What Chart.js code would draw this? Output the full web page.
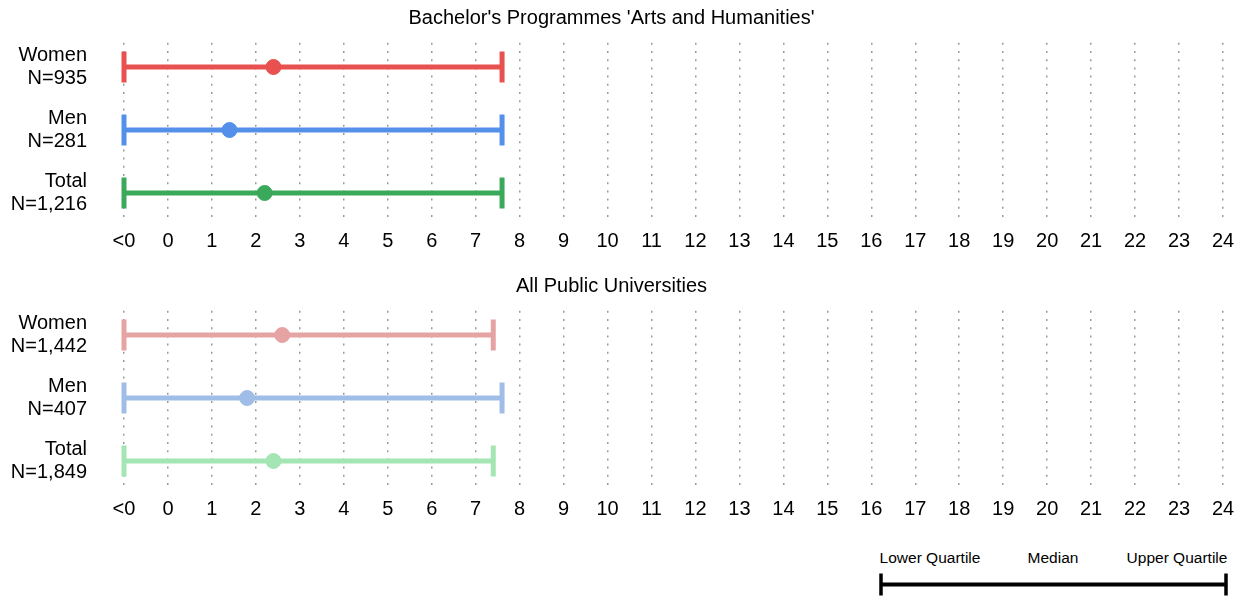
<!DOCTYPE html>
<html>
<head>
<meta charset="utf-8">
<script src="https://cdn.jsdelivr.net/npm/chart.js@4.4.1/dist/chart.umd.min.js"></script>
<style>
html, body { margin: 0; padding: 0; overflow: hidden; background: #fff; }
body { width: 1250px; height: 598px; position: relative; font-family: "Liberation Sans", Arial, sans-serif; }
.panel { position: absolute; left: 0; }
#topPanel { top: 0; }
#bottomPanel { top: 268px; }
#keyChart { position: absolute; left: 860px; top: 570px; }
.keyLabel { position: absolute; top: 548px; font-size: 15.5px; line-height: 20px; transform: translateX(-50%); white-space: nowrap; color: #000; }
</style>
</head>
<body>
<canvas id="topPanel" class="panel" width="1250" height="260"></canvas>
<canvas id="bottomPanel" class="panel" width="1250" height="260"></canvas>
<canvas id="keyChart" width="390" height="28"></canvas>
<div id="keyLabels"></div>

<script>
// 데이터
const groups = ['Women', 'Men', 'Total'];
const xTickLabels = ['<0', '0', '1', '2', '3', '4', '5', '6', '7', '8', '9', '10', '11', '12',
	'13', '14', '15', '16', '17', '18', '19', '20', '21', '22', '23', '24'];

const topTitle = "Bachelor's Programmes 'Arts and Humanities'";
const topN = ['N=935', 'N=281', 'N=1,216'];
const topLower = [-1, -1, -1];   // -1 = "<0"
const topMedian = [2.4, 1.4, 2.2];
const topUpper = [7.6, 7.6, 7.6];

const bottomTitle = 'All Public Universities';
const bottomN = ['N=1,442', 'N=407', 'N=1,849'];
const bottomLower = [-1, -1, -1];
const bottomMedian = [2.6, 1.8, 2.4];
const bottomUpper = [7.4, 7.6, 7.4];

const keyLabels = ['Lower Quartile', 'Median', 'Upper Quartile'];
const keyValues = [0, 1, 2];

// 색상
const topColors = ['#e8514f', '#5490ea', '#3ba95a'];
const bottomColors = ['#e6a3a3', '#9fbde6', '#a3e6b4'];

Chart.defaults.font.family = "'Liberation Sans', Arial, sans-serif";
Chart.defaults.color = '#000';

function drawPanel(canvasId, title, nLabels, lower, median, upper, colors) {
	const datasets = [];

	// 중앙값 점
	datasets.push({
		data: groups.map((g, i) => ({ x: median[i], y: i })),
		pointStyle: 'circle',
		pointRadius: 7.5,
		pointBackgroundColor: colors,
		pointBorderColor: colors,
		pointBorderWidth: 1,
		showLine: false,
		order: 0
	});

	// 사분위 범위 선
	groups.forEach((g, i) => {
		datasets.push({
			data: [{ x: lower[i], y: i }, { x: upper[i], y: i }],
			showLine: true,
			borderColor: colors[i],
			borderWidth: 5,
			pointStyle: 'line',
			pointRotation: 90,
			pointRadius: 15.5,
			pointBorderWidth: 5,
			pointBorderColor: colors[i],
			clip: false,
			order: 1
		});
	});

	return new Chart(document.getElementById(canvasId), {
		type: 'scatter',
		data: { datasets: datasets },
		options: {
			responsive: false,
			animation: false,
			events: [],
			layout: { padding: { left: 0, right: 27, top: 0, bottom: 0 } },
			plugins: {
				legend: { display: false },
				tooltip: { enabled: false },
				title: {
					display: true,
					text: title,
					color: '#000',
					font: { size: 20, weight: 'normal', lineHeight: 1.2 },
					padding: { top: 6, bottom: 11.8 }
				}
			},
			scales: {
				x: {
					type: 'linear',
					min: -1,
					max: 24,
					afterFit: (scale) => { scale.height = 41.8; },
					ticks: {
						stepSize: 1,
						autoSkip: false,
						maxRotation: 0,
						padding: 11,
						color: '#000',
						font: { size: 20, lineHeight: 1.2 },
						callback: (v) => xTickLabels[v + 1]
					},
					grid: { color: '#9a9a9a', lineWidth: 1.5, drawTicks: false },
					border: { display: false, dash: [2, 6.2], dashOffset: -1 }
				},
				y: {
					type: 'linear',
					reverse: true,
					min: -0.4,
					max: 2.4,
					afterBuildTicks: (scale) => { scale.ticks = groups.map((g, i) => ({ value: i })); },
					afterFit: (scale) => {
						scale.width = 124;
						// 라벨 여백이 세로 영역을 줄이지 않도록
						scale.paddingTop = 0;
						scale.paddingBottom = 0;
					},
					ticks: {
						padding: 37,
						color: '#000',
						font: { size: 20, lineHeight: 1.15 },
						callback: (v) => [groups[v], nLabels[v]]
					},
					grid: { display: false, drawTicks: false },
					border: { display: false }
				}
			}
		}
	});
}

function drawKey() {
	// 범례 텍스트
	const box = document.getElementById('keyLabels');
	const centers = [930, 1053, 1177];
	keyLabels.forEach((txt, i) => {
		const span = document.createElement('span');
		span.className = 'keyLabel';
		span.style.left = centers[i] + 'px';
		span.textContent = txt;
		box.appendChild(span);
	});

	new Chart(document.getElementById('keyChart'), {
		type: 'scatter',
		data: {
			datasets: [{
				data: [{ x: keyValues[1], y: 0 }],
				pointStyle: 'circle',
				pointRadius: 8,
				pointBackgroundColor: '#000',
				pointBorderColor: '#000',
				showLine: false,
				order: 0
			}, {
				data: [{ x: keyValues[0], y: 0 }, { x: keyValues[2], y: 0 }],
				showLine: true,
				borderColor: '#000',
				borderWidth: 4,
				pointStyle: 'line',
				pointRotation: 90,
				pointRadius: 11,
				pointBorderWidth: 3.5,
				pointBorderColor: '#000',
				clip: false,
				order: 1
			}]
		},
		options: {
			responsive: false,
			animation: false,
			events: [],
			layout: { padding: { left: 21, right: 24, top: 0, bottom: 0 } },
			plugins: { legend: { display: false }, tooltip: { enabled: false } },
			scales: {
				x: { type: 'linear', min: 0, max: 2, display: false },
				y: { type: 'linear', min: -0.4, max: 1, display: false }
			}
		}
	});
}

document.addEventListener("DOMContentLoaded", () => {
	drawPanel('topPanel', topTitle, topN, topLower, topMedian, topUpper, topColors);
	drawPanel('bottomPanel', bottomTitle, bottomN, bottomLower, bottomMedian, bottomUpper, bottomColors);
	drawKey();
});
</script>
</body>
</html>
